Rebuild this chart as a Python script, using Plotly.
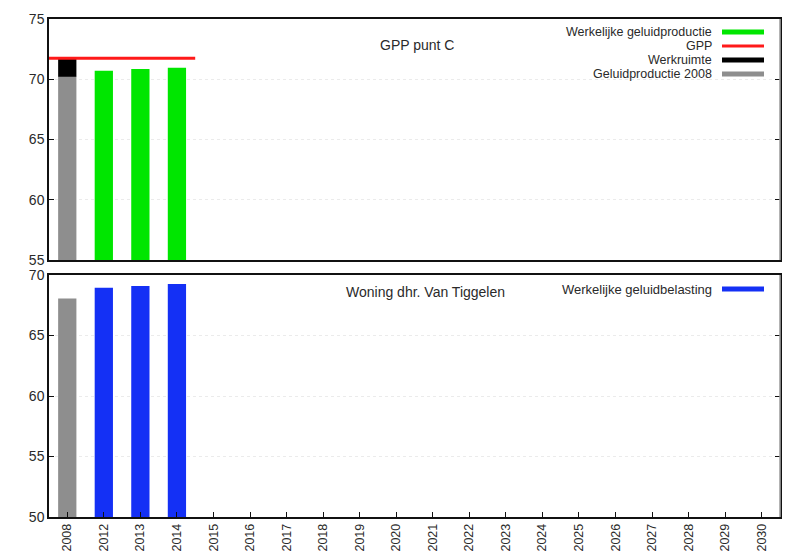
import plotly.graph_objects as go
from plotly.subplots import make_subplots

# ---- data ----
years = ["2008", "2012", "2013", "2014", "2015", "2016", "2017", "2018", "2019", "2020",
         "2021", "2022", "2023", "2024", "2025", "2026", "2027", "2028", "2029", "2030"]
top_base_year = ["2008"]
geluidproductie_2008 = [70.2]
werkruimte = [1.6]
gpp_value = 71.75
werkelijke_years = ["2012", "2013", "2014"]
werkelijke_geluidproductie = [70.7, 70.85, 70.95]

woning_2008 = [68.05]
werkelijke_geluidbelasting = [68.95, 69.1, 69.25]

top_title = "GPP punt C"
bottom_title = "Woning dhr. Van Tiggelen"

# ---- styles ----
GRAY = "#8e8e8e"
BLACK = "#000000"
RED = "#ff1a1a"
GREEN = "#00e600"
BLUE = "#1430f5"
TXT = "#2a2a2a"
FONT = "Liberation Sans, Arial, sans-serif"

OFF = 8  # page body margin
SW, SH = 802, 554           # screen size
PL, PR, PT, PB = 49, 780, 19, 517   # plot area in screen pixels
W, H = SW - OFF, SH - OFF
plot_h = PB - PT
plot_w = PR - PL

def py(p):
    return (PB - p) / plot_h

def px(p):
    return (p - PL) / plot_w

idx = {y: i for i, y in enumerate(years)}

fig = make_subplots(rows=2, cols=1, shared_xaxes=False, vertical_spacing=0)

# top panel
fig.add_trace(go.Bar(x=[idx[y] for y in top_base_year], y=geluidproductie_2008,
                     marker_color=GRAY, marker_line_width=0, width=0.5,
                     name="Geluidproductie 2008", showlegend=False), row=1, col=1)
fig.add_trace(go.Bar(x=[idx[y] for y in top_base_year], y=werkruimte, base=geluidproductie_2008,
                     marker_color=BLACK, marker_line_width=0, width=0.5,
                     name="Werkruimte", showlegend=False), row=1, col=1)
fig.add_trace(go.Bar(x=[idx[y] for y in werkelijke_years], y=werkelijke_geluidproductie,
                     marker_color=GREEN, marker_line_width=0, width=0.5,
                     name="Werkelijke geluidproductie", showlegend=False), row=1, col=1)
span_years = top_base_year + werkelijke_years
gpp_x = [idx[span_years[0]] - 0.5, idx[span_years[-1]] + 0.5]
fig.add_trace(go.Scatter(x=gpp_x, y=[gpp_value] * 2, mode="lines",
                         line=dict(color=RED, width=3), name="GPP", showlegend=False),
              row=1, col=1)

# bottom panel
fig.add_trace(go.Bar(x=[idx[y] for y in top_base_year], y=woning_2008,
                     marker_color=GRAY, marker_line_width=0, width=0.5,
                     name="Geluidbelasting 2008", showlegend=False), row=2, col=1)
fig.add_trace(go.Bar(x=[idx[y] for y in werkelijke_years], y=werkelijke_geluidbelasting,
                     marker_color=BLUE, marker_line_width=0, width=0.5,
                     name="Werkelijke geluidbelasting", showlegend=False), row=2, col=1)

axis_common = dict(showline=True, linecolor="#111", linewidth=1.5,
                   ticklen=5, tickcolor="#111", zeroline=False, automargin=False,
                   tickfont=dict(family=FONT, size=14, color=TXT))

fig.update_xaxes(**axis_common, range=[-0.5, len(years) - 0.5], tickmode="array",
                 tickvals=list(range(len(years))), ticktext=years, mirror=True,
                 showgrid=False, ticks="inside")
fig.update_xaxes(showticklabels=False, ticks="", row=1, col=1)
fig.update_xaxes(tickangle=-90, tickfont=dict(size=12.5), row=2, col=1)

fig.update_yaxes(**axis_common, mirror="ticks", ticks="inside", showgrid=True,
                 gridcolor="#ebebeb", griddash="dot", gridwidth=1)
fig.update_yaxes(range=[55, 75], tickvals=[55, 60, 65, 70, 75], row=1, col=1)
fig.update_yaxes(range=[50, 70], tickvals=[50, 55, 60, 65, 70], row=2, col=1)

fig.update_layout(
    width=W, height=H,
    margin=dict(l=PL - OFF, r=SW - PR, t=PT - OFF, b=SH - PB, pad=0),
    paper_bgcolor="white", plot_bgcolor="white", barmode="overlay",
    font=dict(family=FONT, size=14, color=TXT), showlegend=False,
)
fig.layout.yaxis.domain = [py(260), py(PT)]
fig.layout.yaxis2.domain = [0, py(275)]

# right borders (light gray)
for yr in ["y domain", "y2 domain"]:
    fig.add_shape(type="line", xref="paper", yref=yr, x0=1, x1=1, y0=0, y1=1,
                  line=dict(color="#a0a0a0", width=1.6))

# titles
fig.add_annotation(text=top_title, x=px(417), y=py(45), xref="paper", yref="paper",
                   showarrow=False, font=dict(size=14, color=TXT), xanchor="center", yanchor="middle")
fig.add_annotation(text=bottom_title, x=px(425), y=py(292), xref="paper", yref="paper",
                   showarrow=False, font=dict(size=14, color=TXT), xanchor="center", yanchor="middle")

# legends (text right-aligned, sample to the right)
legend_top = [("Werkelijke geluidproductie", GREEN, 32),
              ("GPP", RED, 46),
              ("Werkruimte", BLACK, 60),
              ("Geluidproductie 2008", GRAY, 74)]
legend_bottom = [("Werkelijke geluidbelasting", BLUE, 289)]
for name, col, ypix in legend_top + legend_bottom:
    fig.add_annotation(text=name, x=px(714), y=py(ypix), xref="paper", yref="paper",
                       showarrow=False, xanchor="right", yanchor="middle",
                       font=dict(size=13 if name in [legend_bottom[0][0]] else 12.5, color=TXT))
    fig.add_shape(type="line", xref="paper", yref="paper", x0=px(722), x1=px(764),
                  y0=py(ypix), y1=py(ypix),
                  line=dict(color=col, width=3 if col == RED else 5))

fig.write_html("out.html")
